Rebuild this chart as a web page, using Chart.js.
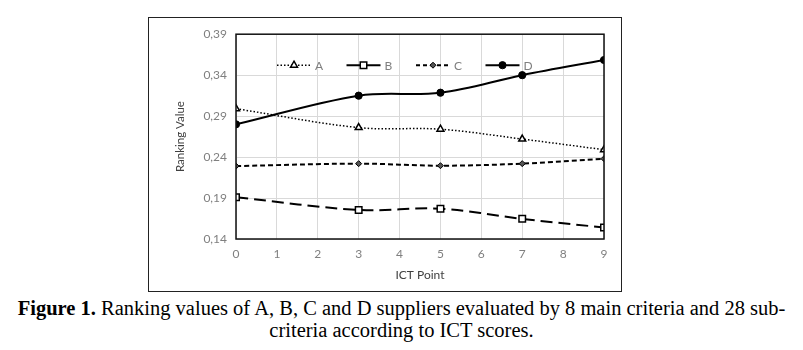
<!DOCTYPE html>
<html>
<head>
<meta charset="utf-8">
<script src="https://cdn.jsdelivr.net/npm/chart.js@4.4.0/dist/chart.umd.min.js"></script>
<style>
  html, body { margin: 0; padding: 0; background: #fff; }
  body { width: 803px; height: 350px; position: relative; overflow: hidden; }
  #box {
    position: absolute; left: 148px; top: 17px; width: 472px; height: 273px;
    border: 1.5px solid #222;
  }
  #caption {
    position: absolute; left: 0; top: 297px; width: 803px; text-align: center;
    font-family: "Liberation Serif", "Times New Roman", serif; font-size: 20.5px;
    line-height: 22px; color: #000; white-space: nowrap;
  }
</style>
</head>
<body>
<div id="box"><canvas id="chart"></canvas></div>
<div id="caption"><b>Figure 1.</b> Ranking values of A, B, C and D suppliers evaluated by 8 main criteria and 28 sub-<br>criteria according to ICT scores.</div>
<script>
// ICT points and ranking values per supplier
const ictPoints = [0, 3, 5, 7, 9];
const seriesA = [0.299, 0.276, 0.274, 0.262, 0.249];
const seriesB = [0.191, 0.1755, 0.177, 0.1646, 0.154];
const seriesC = [0.229, 0.232, 0.2295, 0.232, 0.238];
const seriesD = [0.280, 0.315, 0.3186, 0.340, 0.3585];
const yTicks = [0.14, 0.19, 0.24, 0.29, 0.34, 0.39];
const labels = ['A', 'B', 'C', 'D'];

const toPoints = (vals) => vals.map((v, i) => ({ x: ictPoints[i], y: v }));

const GRID = '#d9d9d9';
const TICK = '#7f7f7f';
const FONT = 'Lato, "Open Sans", sans-serif';

// dash used for the small legend samples
const legendDash = [[1.5, 2], [], [4, 3], []];

// black frame around the plot area
const frame = {
  id: 'frame',
  afterDraw(chart) {
    const a = chart.chartArea, ctx = chart.ctx;
    ctx.save();
    ctx.strokeStyle = '#111';
    ctx.lineWidth = 1.5;
    ctx.strokeRect(a.left, a.top, a.right - a.left, a.bottom - a.top);
    ctx.restore();
  }
};

// legend inside the plot, line + marker + label
const insideLegend = {
  id: 'insideLegend',
  afterDatasetsDraw(chart) {
    const a = chart.chartArea, ctx = chart.ctx;
    const y = a.top + 31;
    ctx.save();
    chart.data.datasets.forEach((ds, i) => {
      const x0 = a.left + 41 + i * 69.5;
      const x1 = x0 + 34;
      ctx.beginPath();
      ctx.setLineDash(legendDash[i]);
      ctx.lineWidth = ds.borderWidth;
      ctx.strokeStyle = '#000';
      ctx.moveTo(x0, y);
      ctx.lineTo(x1, y);
      ctx.stroke();
      ctx.setLineDash([]);
      ctx.fillStyle = ds.pointBackgroundColor;
      ctx.strokeStyle = '#000';
      ctx.lineWidth = ds.pointBorderWidth;
      Chart.helpers.drawPoint(ctx, {
        pointStyle: ds.pointStyle,
        radius: ds.pointRadius,
        borderWidth: ds.pointBorderWidth
      }, (x0 + x1) / 2, y);
      ctx.fillStyle = TICK;
      ctx.font = '12px ' + FONT;
      ctx.textBaseline = 'middle';
      ctx.fillText(ds.label, x1 + 4, y + 1);
    });
    ctx.restore();
  }
};

new Chart(document.getElementById('chart'), {
  type: 'line',
  data: {
    datasets: [
      {
        label: labels[0], data: toPoints(seriesA),
        borderColor: '#000', borderWidth: 1.5, borderDash: [1.5, 2],
        pointStyle: 'triangle', pointRadius: 4, pointBorderWidth: 1.5,
        pointBackgroundColor: '#fff', pointBorderColor: '#000'
      },
      {
        label: labels[1], data: toPoints(seriesB),
        borderColor: '#000', borderWidth: 2, borderDash: [12, 6],
        pointStyle: 'rect', pointRadius: 4.6, pointBorderWidth: 1.5,
        pointBackgroundColor: '#fff', pointBorderColor: '#000'
      },
      {
        label: labels[2], data: toPoints(seriesC),
        borderColor: '#000', borderWidth: 2, borderDash: [5, 3],
        pointStyle: 'rectRot', pointRadius: 3, pointBorderWidth: 1,
        pointBackgroundColor: '#555', pointBorderColor: '#000'
      },
      {
        label: labels[3], data: toPoints(seriesD),
        borderColor: '#000', borderWidth: 2,
        pointStyle: 'circle', pointRadius: 3.6, pointBorderWidth: 1,
        pointBackgroundColor: '#000', pointBorderColor: '#000'
      }
    ]
  },
  options: {
    responsive: true,
    maintainAspectRatio: false,
    animation: false,
    layout: { padding: { top: 15, right: 17, bottom: 5, left: 20 } },
    elements: { line: { tension: 0.35, fill: false } },
    scales: {
      x: {
        type: 'linear', min: 0, max: 9,
        ticks: { stepSize: 1, color: TICK, font: { family: FONT, size: 12 }, padding: 8 },
        grid: { color: GRID, drawTicks: false },
        border: { display: false },
        title: { display: true, text: 'ICT Point', color: '#404040', font: { family: FONT, size: 12 }, padding: { top: 5 } },
        afterFit(scale) { scale.height = 47; }
      },
      y: {
        min: 0.14, max: 0.39,
        afterBuildTicks(scale) { scale.ticks = yTicks.map(v => ({ value: v })); },
        ticks: {
          color: TICK, font: { family: FONT, size: 12 }, padding: 9,
          callback: (v) => Number(v).toFixed(2).replace('.', ',')
        },
        grid: { color: GRID, drawTicks: false },
        border: { display: false },
        title: { display: true, text: 'Ranking Value', color: '#404040', font: { family: FONT, size: 11.5 }, padding: { bottom: 8 } },
        afterFit(scale) { scale.width = 67; }
      }
    },
    plugins: {
      legend: { display: false },
      tooltip: { enabled: false }
    }
  },
  plugins: [frame, insideLegend]
});
</script>
</body>
</html>
